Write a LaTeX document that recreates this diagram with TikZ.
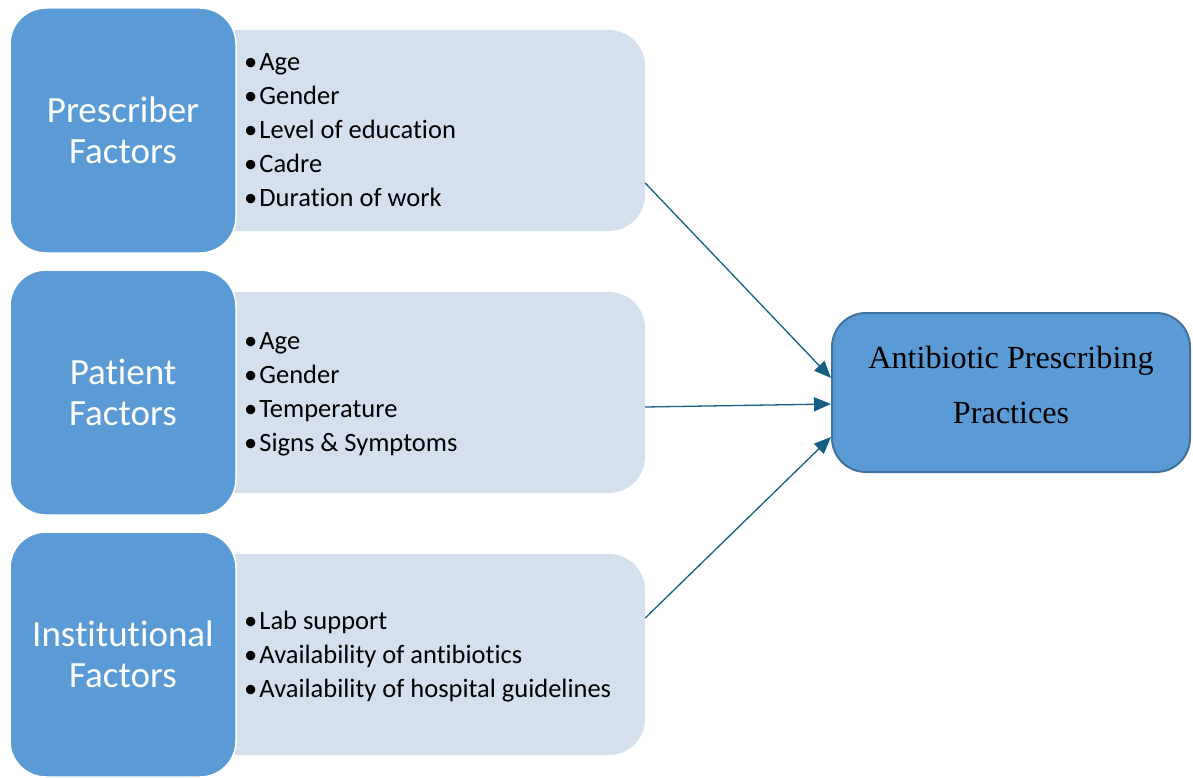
\documentclass[tikz,border=0pt]{standalone}
\usepackage{fontspec}
\setmainfont{Carlito}[Ligatures=NoCommon]
\newfontfamily\serifface{Liberation Serif}
\usetikzlibrary{arrows.meta,calc}
\definecolor{mainblue}{HTML}{5B9BD5}
\definecolor{lightblue}{HTML}{D5E0EF}
\definecolor{arrowcol}{HTML}{156082}
\definecolor{borderblue}{HTML}{41719C}
\tikzset{
  factorbox/.style={fill=mainblue, draw=white, line width=1.5pt, rounded corners=36pt,
    minimum width=226pt, minimum height=245pt, inner sep=0pt, align=center,
    text=white, font=\fontsize{37}{41}\selectfont},
  listbox/.style={fill=lightblue, draw=none, rounded corners=36pt,
    minimum width=445pt, minimum height=201pt, inner sep=0pt},
  listtext/.style={anchor=west, align=left, inner sep=0pt, font=\fontsize{26.5}{34}\selectfont},
  outcomebox/.style={fill=mainblue, draw=borderblue, line width=2pt, rounded corners=34pt,
    minimum width=358pt, minimum height=159pt, inner sep=0pt},
  outcometext/.style={align=center, inner sep=0pt, font=\serifface\fontsize{32.2}{55}\selectfont},
  conn/.style={draw=arrowcol, line width=1.3pt, -{Triangle[length=17pt,width=14pt]}}
}
\newcommand{\bul}{•\hspace{2pt}}
\begin{document}
\begin{tikzpicture}[x=1pt,y=-1pt]
\useasboundingbox (0,0) rectangle (1193,778);
% list boxes
\node[listbox] (l1) at (422.5,130.5) {};
\node[listbox] (l2) at (422.5,392.5) {};
\node[listbox] (l3) at (422.5,654.5) {};
% factor boxes
\node[factorbox] (f1) at (123,130.5) {Prescriber\\Factors};
\node[factorbox] (f2) at (123,392.5) {Patient\\Factors};
\node[factorbox] (f3) at (123,654.5) {Institutional\\Factors};
% list texts
\node[listtext] (t1) at (244,130) {\bul Age\\\bul Gender\\\bul Level of education\\\bul Cadre\\\bul Duration of work};
\node[listtext] (t2) at (244,394) {\bul Age\\\bul Gender\\\bul Temperature\\\bul Signs \& Symptoms};
\node[listtext] (t3) at (244,657) {\bul Lab support\\\bul Availability of antibiotics\\\bul Availability of hospital guidelines};
% outcome
\node[outcomebox] (o) at (1011,392.5) {};
\node[outcometext] (ot) at (1011,385) {Antibiotic Prescribing\\Practices};
% connectors
\draw[conn] ($(l1.east)+(0,52.5)$) -- ($(o.west)+(0,-14.5)$);
\draw[conn] ($(l2.east)+(0,14.5)$) -- ($(o.west)+(0,11.5)$);
\draw[conn] ($(l3.east)+(0,-36.5)$) -- ($(o.west)+(0,44.5)$);
\end{tikzpicture}
\end{document}
